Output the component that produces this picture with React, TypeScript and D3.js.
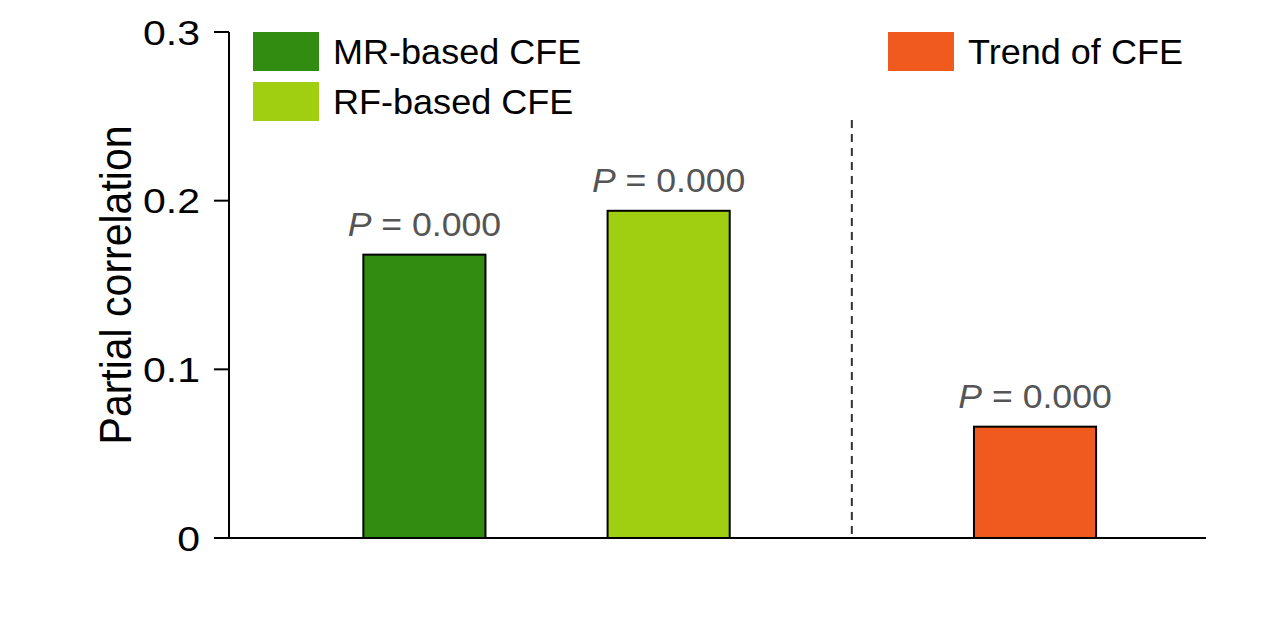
import * as d3 from "d3"

const categories = ["MR-based CFE", "RF-based CFE", "Trend of CFE"]
const values = [0.168, 0.194, 0.066]
const pLabels = ["0.000", "0.000", "0.000"]
const positions = [0.8, 1.8, 3.3]
const colors = ["#328c12", "#9fcf10", "#f15a1e"]
const yTicks = [0, 0.1, 0.2, 0.3]
const dividerAt = 2.55

const width = 1270
const height = 633
const margin = { top: 32, right: 64, bottom: 95, left: 229 }
const font = "Liberation Sans, Arial, sans-serif"

export default function App() {
    const x = d3.scaleLinear().domain([0, 4]).range([margin.left, width - margin.right])
    const y = d3.scaleLinear().domain([0, 0.3]).range([height - margin.bottom, margin.top])
    const barW = x(0.5) - x(0)

    // legend swatch positions (top-left corners)
    const legend = [
        { i: 0, lx: 253, ly: 32 },
        { i: 1, lx: 253, ly: 82 },
        { i: 2, lx: 888, ly: 32 },
    ]

    return (
        <svg
            width={width}
            height={height}
            style={{ position: "absolute", left: 0, top: 0, background: "#fff" }}
            fontFamily={font}
        >
            {/* y axis */}
            <line x1={margin.left} x2={margin.left} y1={y(0.3)} y2={y(0)} stroke="#000" strokeWidth={2} />
            {yTicks.map((t) => (
                <g key={t}>
                    <line x1={margin.left - 15} x2={margin.left} y1={y(t)} y2={y(t)} stroke="#000" strokeWidth={2} />
                    <text
                        transform={`translate(${margin.left - 29},${y(t)}) scale(1.17,1)`}
                        dy="0.36em"
                        textAnchor="end"
                        fontSize={35}
                    >
                        {t === 0 ? "0" : t.toFixed(1)}
                    </text>
                </g>
            ))}
            <text
                transform={`translate(131,${(y(0) + y(0.3)) / 2}) rotate(-90) scale(1,1.08)`}
                textAnchor="middle"
                fontSize={41}
            >
                Partial correlation
            </text>

            {/* x axis */}
            <line x1={margin.left} x2={x(4)} y1={y(0)} y2={y(0)} stroke="#000" strokeWidth={2} />

            {/* divider */}
            <line
                x1={x(dividerAt)}
                x2={x(dividerAt)}
                y1={120}
                y2={y(0)}
                stroke="#333"
                strokeWidth={2}
                strokeDasharray="8,6"
            />

            {/* bars */}
            {values.map((v, i) => (
                <g key={categories[i]}>
                    <rect
                        x={x(positions[i]) - barW / 2}
                        y={y(v)}
                        width={barW}
                        height={y(0) - y(v)}
                        fill={colors[i]}
                        stroke="#000"
                        strokeWidth={2}
                    />
                    <text
                        transform={`translate(${x(positions[i])},${y(v) - 19}) scale(1.08,1)`}
                        textAnchor="middle"
                        fontSize={33}
                        fill="#555"
                    >
                        <tspan fontStyle="italic">P</tspan> = {pLabels[i]}
                    </text>
                </g>
            ))}

            {/* legend */}
            {legend.map((l) => (
                <g key={l.i}>
                    <rect x={l.lx} y={l.ly} width={66} height={39} fill={colors[l.i]} />
                    <text transform={`translate(${l.lx + 80},${l.ly + 32}) scale(1.03,1)`} fontSize={35}>
                        {categories[l.i]}
                    </text>
                </g>
            ))}
        </svg>
    )
}
